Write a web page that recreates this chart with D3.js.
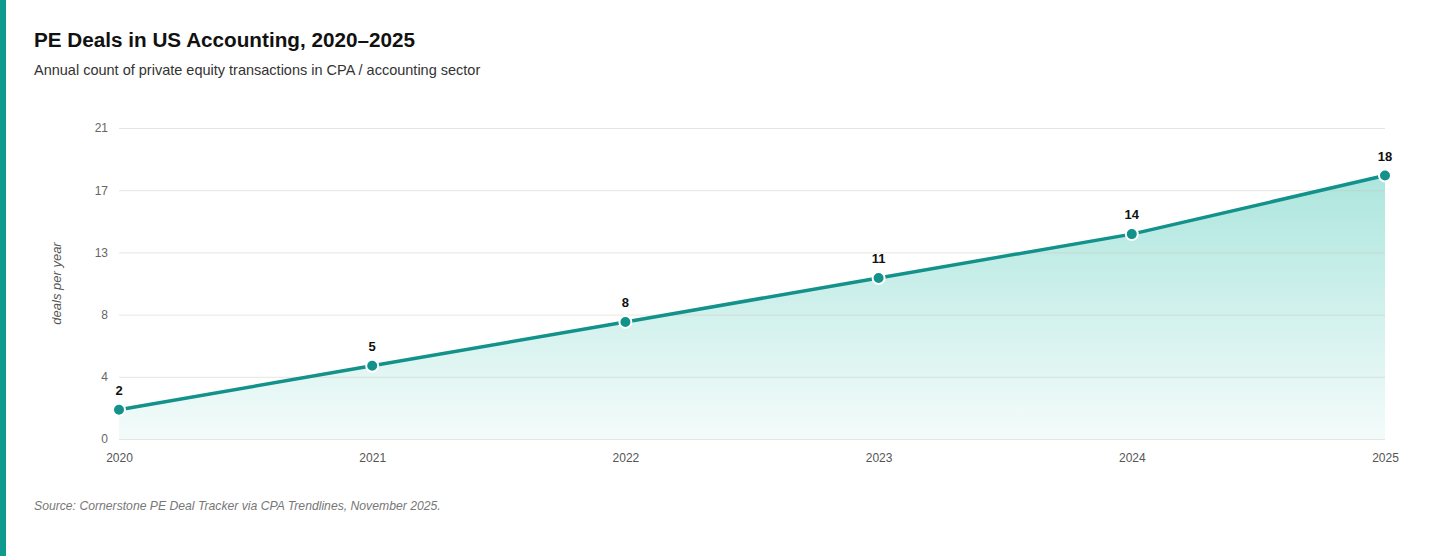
<!DOCTYPE html>
<meta charset="utf-8">
<script src="https://d3js.org/d3.v7.min.js"></script>
<style>
  body { margin: 0; background: #fff; font-family: "Liberation Sans", Arial, sans-serif; }
</style>
<div id="my_dataviz"></div>
<script>

// data
var years = ["2020", "2021", "2022", "2023", "2024", "2025"];
var deals = [2, 5, 8, 11, 14, 18];
var yTickLabels = ["0", "4", "8", "13", "17", "21"];
var yMax = 21.25;

var W = 1456, H = 556;
var margin = {top: 128, right: 71, bottom: 117, left: 119},
    width = W - margin.left - margin.right,
    height = H - margin.top - margin.bottom;

var teal = "#12928a";

var root = d3.select("#my_dataviz")
  .append("svg")
    .attr("width", W)
    .attr("height", H);

// accent bar on the left
root.append("rect")
  .attr("x", 0).attr("y", 0)
  .attr("width", 6).attr("height", H)
  .attr("fill", "#0f9a8e");

// title + subtitle
root.append("text")
  .attr("x", 34).attr("y", 47)
  .style("font-size", "20.7px").style("font-weight", "bold").attr("fill", "#111")
  .text("PE Deals in US Accounting, 2020\u20132025");
root.append("text")
  .attr("x", 34).attr("y", 75)
  .style("font-size", "14.5px").attr("fill", "#333")
  .text("Annual count of private equity transactions in CPA / accounting sector");

// source
root.append("text")
  .attr("x", 34).attr("y", 510)
  .style("font-size", "12.2px").style("font-style", "italic").attr("fill", "#777")
  .text("Source: Cornerstone PE Deal Tracker via CPA Trendlines, November 2025.");

var defs = root.append("defs");
var grad = defs.append("linearGradient")
  .attr("id", "areaGrad")
  .attr("x1", 0).attr("y1", 0).attr("x2", 0).attr("y2", 1);
grad.append("stop").attr("offset", "0%").attr("stop-color", "#1ab8a3").attr("stop-opacity", 0.36);
grad.append("stop").attr("offset", "100%").attr("stop-color", "#1ab8a3").attr("stop-opacity", 0.05);

var svg = root.append("g")
  .attr("transform", "translate(" + margin.left + "," + margin.top + ")");

var x = d3.scalePoint()
  .domain(years)
  .range([0, width]);

var y = d3.scaleLinear()
  .domain([0, yMax])
  .range([height, 0]);

var tickVals = yTickLabels.map(function(d, i) { return yMax * i / (yTickLabels.length - 1); });

var data = years.map(function(d, i) { return {year: d, value: deals[i]}; });

// area
var area = d3.area()
  .x(function(d) { return x(d.year); })
  .y0(height)
  .y1(function(d) { return y(d.value); });
svg.append("path")
  .datum(data)
  .attr("fill", "url(#areaGrad)")
  .attr("d", area);

// grid + y labels (drawn over the area so lines show through)
var yAxis = svg.append("g")
  .call(d3.axisLeft(y)
    .tickValues(tickVals)
    .tickSize(-width)
    .tickPadding(11)
    .tickFormat(function(d, i) { return yTickLabels[i]; }));
yAxis.select(".domain").remove();
yAxis.selectAll(".tick line")
  .attr("stroke", "#c9c6b8").attr("stroke-opacity", 0.45);
yAxis.selectAll(".tick text")
  .attr("fill", "#666").style("font-size", "12px")
  .style("font-family", "Liberation Sans, Arial, sans-serif");

// x labels
var xAxis = svg.append("g")
  .attr("transform", "translate(0," + height + ")")
  .call(d3.axisBottom(x).tickSize(0).tickPadding(14));
xAxis.select(".domain").remove();
xAxis.selectAll(".tick text")
  .attr("fill", "#555").style("font-size", "12px")
  .style("font-family", "Liberation Sans, Arial, sans-serif");

// y axis title
svg.append("text")
  .attr("transform", "translate(-58," + (height / 2) + ")rotate(-90)")
  .attr("text-anchor", "middle")
  .style("font-size", "13px").style("font-style", "italic").attr("fill", "#555")
  .text("deals per year");

// line
var line = d3.line()
  .x(function(d) { return x(d.year); })
  .y(function(d) { return y(d.value); });
svg.append("path")
  .datum(data)
  .attr("fill", "none")
  .attr("stroke", teal)
  .attr("stroke-width", 3.5)
  .attr("d", line);

// dots
svg.selectAll("circle.dot")
  .data(data)
  .enter()
  .append("circle")
    .attr("class", "dot")
    .attr("cx", function(d) { return x(d.year); })
    .attr("cy", function(d) { return y(d.value); })
    .attr("r", 6)
    .attr("fill", teal)
    .attr("stroke", "#fff")
    .attr("stroke-width", 2);

// value labels
svg.selectAll("text.val")
  .data(data)
  .enter()
  .append("text")
    .attr("class", "val")
    .attr("x", function(d) { return x(d.year); })
    .attr("y", function(d) { return y(d.value) - 15; })
    .attr("text-anchor", "middle")
    .style("font-size", "13px").style("font-weight", "bold").attr("fill", "#111")
    .text(function(d) { return d.value; });

</script>
